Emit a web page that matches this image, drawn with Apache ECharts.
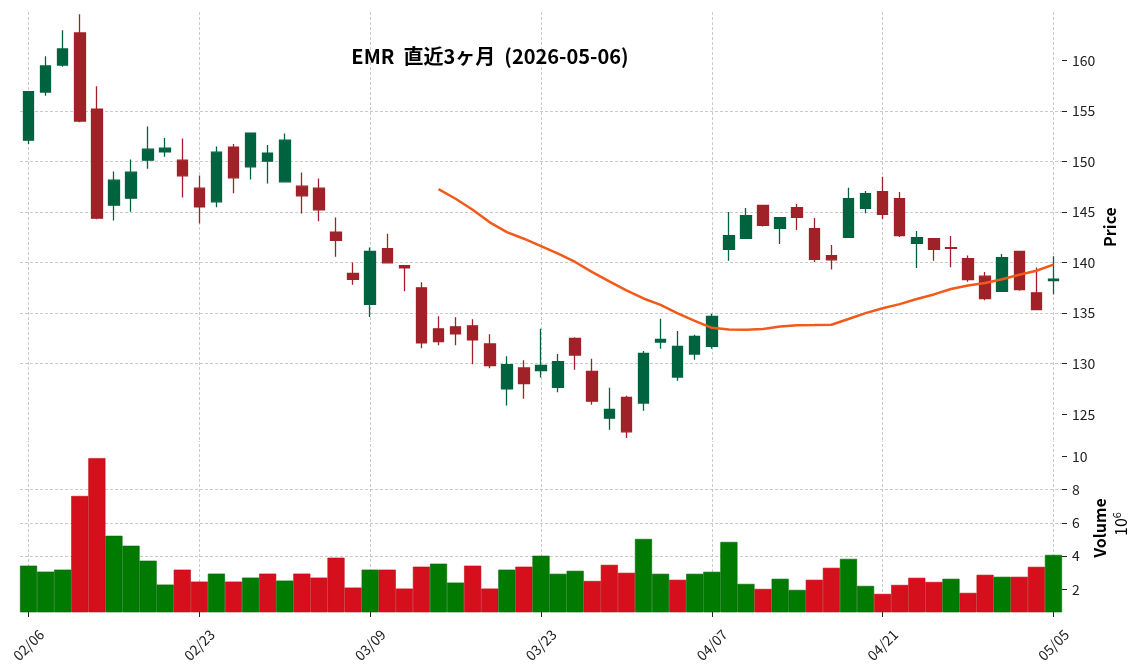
<!DOCTYPE html>
<html>
<head>
<meta charset="utf-8">
<script src="https://cdn.jsdelivr.net/npm/echarts@6/dist/echarts.min.js"></script>
<style>
html,body{margin:0;padding:0;background:#fff;}
#chart{width:1144px;height:670px;}
</style>
</head>
<body>
<div id="chart"></div>
<script>
const dates = [
  '02/06','02/09','02/10','02/11','02/12','02/13','02/17','02/18','02/19','02/20',
  '02/23','02/24','02/25','02/26','02/27','03/02','03/03','03/04','03/05','03/06',
  '03/09','03/10','03/11','03/12','03/13','03/16','03/17','03/18','03/19','03/20',
  '03/23','03/24','03/25','03/26','03/27','03/30','03/31','04/01','04/02','04/06',
  '04/07','04/08','04/09','04/10','04/13','04/14','04/15','04/16','04/17','04/20',
  '04/21','04/22','04/23','04/24','04/27','04/28','04/29','04/30','05/01','05/04',
  '05/05'
];
const opens = [
  152.11,156.86,159.54,162.71,155.18,145.68,146.37,150.13,150.96,150.13,
  147.36,146.01,151.42,149.47,150.03,147.99,147.56,147.36,143.00,138.94,
  135.88,141.37,139.69,137.51,133.45,133.65,133.75,131.96,127.51,129.59,
  129.33,127.66,132.51,129.24,124.62,126.67,126.11,132.15,128.68,130.96,
  131.73,141.30,142.39,145.66,143.38,145.43,143.35,140.68,142.49,145.36,
  147.01,146.32,141.90,142.36,141.47,140.38,138.66,137.15,141.11,137.01,
  138.23
];
const highs = [
  156.95,160.40,162.97,164.55,157.43,149.01,150.20,153.47,152.31,152.28,
  148.62,151.49,151.72,152.85,151.62,152.77,148.91,148.32,144.46,140.00,
  141.49,142.85,139.72,138.07,134.70,134.60,134.41,132.92,130.74,130.35,
  133.45,130.96,132.61,130.50,127.62,126.83,131.25,134.46,133.23,132.87,
  134.95,145.00,145.40,145.73,144.50,145.79,144.41,141.73,147.41,147.08,
  148.50,146.98,143.12,142.43,142.62,140.71,139.06,140.84,141.15,139.52,
  140.64
];
const lows = [
  151.72,156.50,159.37,153.89,144.29,144.16,145.02,149.27,150.46,146.44,
  143.86,145.48,146.86,148.22,147.82,147.95,144.85,144.09,140.59,137.82,
  134.62,139.95,137.18,131.53,131.83,131.83,129.95,129.55,125.86,126.55,
  128.65,127.19,129.41,125.94,123.47,122.67,125.35,131.49,128.32,130.40,
  131.49,140.18,142.35,143.58,141.83,143.22,140.05,139.32,142.45,144.87,
  144.31,142.52,139.46,140.18,139.55,138.10,136.29,137.10,137.21,135.32,
  136.88
];
const closes = [
  156.90,159.44,161.12,153.99,144.39,148.15,148.94,151.22,151.32,148.58,
  145.51,150.92,148.38,152.81,150.83,152.11,146.60,145.21,142.21,138.35,
  141.10,139.98,139.49,132.06,132.19,132.95,132.36,129.82,129.92,128.04,
  129.83,130.20,130.86,126.30,125.48,123.27,131.02,132.41,131.72,132.71,
  134.67,142.66,144.64,143.68,144.44,144.47,140.33,140.28,146.32,146.82,
  144.77,142.66,142.46,141.30,141.40,138.33,136.45,140.48,137.34,135.36,
  138.37
];
// volume in millions of shares
const volumes = [
  3.42,3.06,3.18,7.62,9.90,5.22,4.62,3.72,2.28,3.18,
  2.46,2.94,2.46,2.70,2.94,2.52,2.94,2.70,3.90,2.10,
  3.18,3.18,2.04,3.36,3.54,2.40,3.42,2.04,3.18,3.36,
  4.02,2.93,3.11,2.50,3.47,2.99,5.03,2.93,2.57,2.93,
  3.05,4.85,2.32,2.02,2.63,1.96,2.57,3.29,3.83,2.20,
  1.72,2.26,2.69,2.44,2.63,1.78,2.87,2.75,2.75,3.35,
  4.07
];
const dateTickIdx = [0,10,20,30,40,50,60];
const priceTicks = [125,130,135,140,145,150,155,160];
const volTicks = [2,4,6,8,10];
const maPeriod = 25;

const FONT = '"Noto Sans CJK JP", "Noto Sans", sans-serif';
const UP = '#006340', DOWN = '#a02128';
const VUP = '#007a00', VDOWN = '#d50f1b';
const GRIDLINE = {type:[3,2], color:'#bcbcbc', width:0.8};

const candleData = dates.map((d,i)=>[opens[i], closes[i], lows[i], highs[i]]);
const maData = closes.map((c,i)=>{
  if (i < maPeriod-1) return null;
  let s = 0; for (let k=i-maPeriod+1;k<=i;k++) s += closes[k];
  return +(s/maPeriod).toFixed(3);
});
const volData = volumes.map((v,i)=>{
  const up = i===0 ? true : closes[i] >= closes[i-1];
  return {value:v, itemStyle:{color: up?VUP:VDOWN, borderColor: up?'#006a00':'#bf0d18', borderWidth:0.6}};
});
const isTick = (i)=> dateTickIdx.indexOf(i) >= 0;
const vLines = dateTickIdx.map(i=>({xAxis: dates[i]}));

const chart = echarts.init(document.getElementById('chart'), null, {renderer:'canvas'});
chart.setOption({
  animation:false,
  backgroundColor:'#fff',
  textStyle:{fontFamily:FONT},
  grid:[
    {left:20, width:1042, top:12, height:428, containLabel:false, outerBoundsMode:'none'},
    {left:20, width:1042, top:441, height:171, containLabel:false, outerBoundsMode:'none'}
  ],
  xAxis:[
    {type:'category', gridIndex:0, data:dates, boundaryGap:true,
     axisLine:{show:false}, axisTick:{show:false}, axisLabel:{show:false}, splitLine:{show:false}},
    {type:'category', gridIndex:1, data:dates, boundaryGap:true,
     axisLine:{show:false},
     axisTick:{show:true, alignWithLabel:true, length:5, interval:(i)=>isTick(i), lineStyle:{color:'#222', width:1}},
     axisLabel:{show:true, rotate:45, align:'center', verticalAlign:'middle', interval:(i)=>isTick(i),
       color:'#222', fontSize:14, fontFamily:FONT, margin:33},
     splitLine:{show:false}}
  ],
  yAxis:[
    {type:'value', gridIndex:0, position:'right', min:122.46, max:164.78, splitNumber:8, minInterval:5, maxInterval:5,
     axisLine:{show:false},
     axisTick:{show:true, customValues:priceTicks, length:5, lineStyle:{color:'#222'}},
     axisLabel:{customValues:priceTicks, color:'#222', fontSize:14, fontFamily:FONT, margin:10},
     splitLine:{show:true, showMinLine:false, showMaxLine:false, lineStyle:GRIDLINE}},
    {type:'value', gridIndex:1, position:'right', min:0.63, max:10.93, splitNumber:5, minInterval:2, maxInterval:2,
     axisLine:{show:false},
     axisTick:{show:true, customValues:volTicks, length:5, lineStyle:{color:'#222'}},
     axisLabel:{customValues:volTicks, color:'#222', fontSize:14, fontFamily:FONT, margin:10},
     splitLine:{show:true, showMinLine:false, showMaxLine:false, lineStyle:GRIDLINE}}
  ],
  series:[
    {type:'candlestick', name:'EMR', xAxisIndex:0, yAxisIndex:0, data:candleData, barWidth:11, z:3,
     itemStyle:{color:UP, color0:DOWN, borderColor:UP, borderColor0:DOWN, borderWidth:1.3},
     emphasis:{disabled:true},
     markLine:{silent:true, z:1, symbol:['none','none'], label:{show:false}, lineStyle:GRIDLINE, emphasis:{disabled:true}, data:vLines}},
    {type:'line', name:'MA25', xAxisIndex:0, yAxisIndex:0, data:maData, showSymbol:false, z:4,
     lineStyle:{color:'#f25a1a', width:2.5}, itemStyle:{color:'#f25a1a'}, emphasis:{disabled:true}},
    {type:'bar', name:'Volume', xAxisIndex:1, yAxisIndex:1, data:volData, barCategoryGap:'0%', z:3,
     emphasis:{disabled:true},
     markLine:{silent:true, z:1, symbol:['none','none'], label:{show:false}, lineStyle:GRIDLINE, emphasis:{disabled:true}, data:vLines}}
  ],
  graphic:[
    {type:'text', x:490, y:56, z:10, style:{text:'EMR  直近3ヶ月  (2026-05-06)', fill:'#000',
      font:'bold 20px "Noto Sans CJK JP"', align:'center', verticalAlign:'middle'}},
    {type:'text', x:1110, y:227, rotation:Math.PI/2, style:{text:'Price', fill:'#000',
      font:'bold 16px "Noto Sans CJK JP"', align:'center', verticalAlign:'middle'}},
    {type:'text', x:1100, y:528, rotation:Math.PI/2, style:{text:'Volume', fill:'#000',
      font:'bold 16px "Noto Sans CJK JP"', align:'center', verticalAlign:'middle'}},
    {type:'text', x:1121, y:524, rotation:Math.PI/2, style:{text:'{a|10}{b|6}', fill:'#000',
      align:'center', verticalAlign:'middle',
      rich:{a:{fontSize:16, fontFamily:'Noto Sans CJK JP', fill:'#000'}, b:{fontSize:11, fontFamily:'Noto Sans CJK JP', fill:'#000', padding:[0,0,9,0]}}}}
  ]
});
</script>
</body>
</html>
